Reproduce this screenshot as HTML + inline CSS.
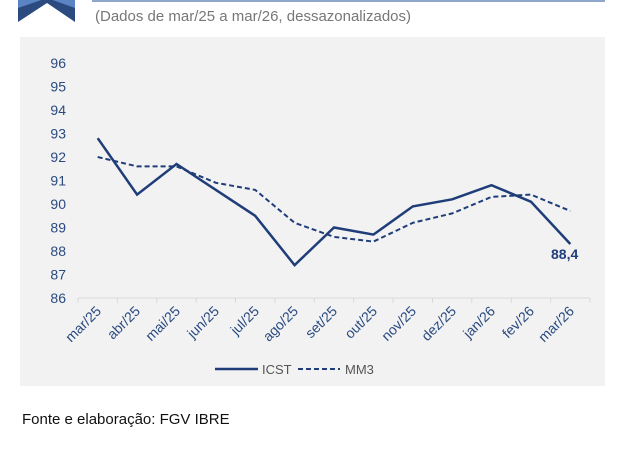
<!DOCTYPE html>
<html><head><meta charset="utf-8"><style>
body{margin:0;background:#fff;width:636px;height:446px;overflow:hidden;font-family:"Liberation Sans",sans-serif}
</style></head><body>
<svg width="636" height="446" xmlns="http://www.w3.org/2000/svg" font-family="Liberation Sans, sans-serif">
<polygon points="18,0 75,0 75,22 47,3 18,22" fill="#2a4a80"/>
<polygon points="18,0 75,0 75,8 47,-2 18,8" fill="#5b84c4"/>
<line x1="92" y1="1" x2="605" y2="1" stroke="#8ea6cc" stroke-width="2"/>
<text x="95" y="21" font-size="15" fill="#777">(Dados de mar/25 a mar/26, dessazonalizados)</text>
<rect x="20" y="37" width="585" height="349" fill="#f2f2f2"/>
<line x1="78" y1="298" x2="590" y2="298" stroke="#d9d9d9"/>
<g stroke="#d9d9d9">
<line x1="78" y1="298" x2="78" y2="303"/><line x1="117.4" y1="298" x2="117.4" y2="303"/><line x1="156.8" y1="298" x2="156.8" y2="303"/><line x1="196.2" y1="298" x2="196.2" y2="303"/><line x1="235.5" y1="298" x2="235.5" y2="303"/><line x1="274.9" y1="298" x2="274.9" y2="303"/><line x1="314.3" y1="298" x2="314.3" y2="303"/><line x1="353.7" y1="298" x2="353.7" y2="303"/><line x1="393.1" y1="298" x2="393.1" y2="303"/><line x1="432.5" y1="298" x2="432.5" y2="303"/><line x1="471.8" y1="298" x2="471.8" y2="303"/><line x1="511.2" y1="298" x2="511.2" y2="303"/><line x1="550.6" y1="298" x2="550.6" y2="303"/><line x1="590" y1="298" x2="590" y2="303"/>
</g>
<g font-size="14" fill="#2a4a80" text-anchor="end">
<text x="66" y="303">86</text><text x="66" y="279.5">87</text><text x="66" y="256">88</text><text x="66" y="232.5">89</text><text x="66" y="209">90</text><text x="66" y="185.5">91</text><text x="66" y="162">92</text><text x="66" y="138.5">93</text><text x="66" y="115">94</text><text x="66" y="91.5">95</text><text x="66" y="68">96</text>
</g>
<g font-size="14" fill="#2a4a80" text-anchor="end">
<text transform="translate(102,312) rotate(-45)">mar/25</text>
<text transform="translate(141,312) rotate(-45)">abr/25</text>
<text transform="translate(181,312) rotate(-45)">mai/25</text>
<text transform="translate(220,312) rotate(-45)">jun/25</text>
<text transform="translate(260,312) rotate(-45)">jul/25</text>
<text transform="translate(299,312) rotate(-45)">ago/25</text>
<text transform="translate(338,312) rotate(-45)">set/25</text>
<text transform="translate(378,312) rotate(-45)">out/25</text>
<text transform="translate(417,312) rotate(-45)">nov/25</text>
<text transform="translate(457,312) rotate(-45)">dez/25</text>
<text transform="translate(496,312) rotate(-45)">jan/26</text>
<text transform="translate(535,312) rotate(-45)">fev/26</text>
<text transform="translate(575,312) rotate(-45)">mar/26</text>
</g>
<polyline fill="none" stroke="#1f3d78" stroke-width="2.5" points="97.7,138.2 137.1,194.6 176.5,164.0 215.9,189.9 255.2,215.8 294.6,265.1 334,227.5 373.4,234.6 412.8,206.4 452.2,199.3 491.5,185.2 530.9,201.7 570.3,244.0"/>
<polyline fill="none" stroke="#1f3d78" stroke-width="2" stroke-dasharray="5,3" points="97.7,157.0 137.1,166.4 176.5,166.4 215.9,182.8 255.2,189.9 294.6,222.8 334,236.9 373.4,241.6 412.8,222.8 452.2,213.4 491.5,196.9 530.9,194.6 570.3,211.0"/>
<text x="551" y="259" font-size="14" font-weight="bold" fill="#1f3d78">88,4</text>
<line x1="215" y1="369" x2="258" y2="369" stroke="#1f3d78" stroke-width="2.5"/>
<text x="262" y="374" font-size="13" fill="#555">ICST</text>
<line x1="298" y1="369" x2="340" y2="369" stroke="#1f3d78" stroke-width="2" stroke-dasharray="5,3"/>
<text x="345" y="374" font-size="13" fill="#555">MM3</text>
<text x="22" y="424" font-size="15" fill="#111">Fonte e elaboração: FGV IBRE</text>
</svg>
</body></html>
